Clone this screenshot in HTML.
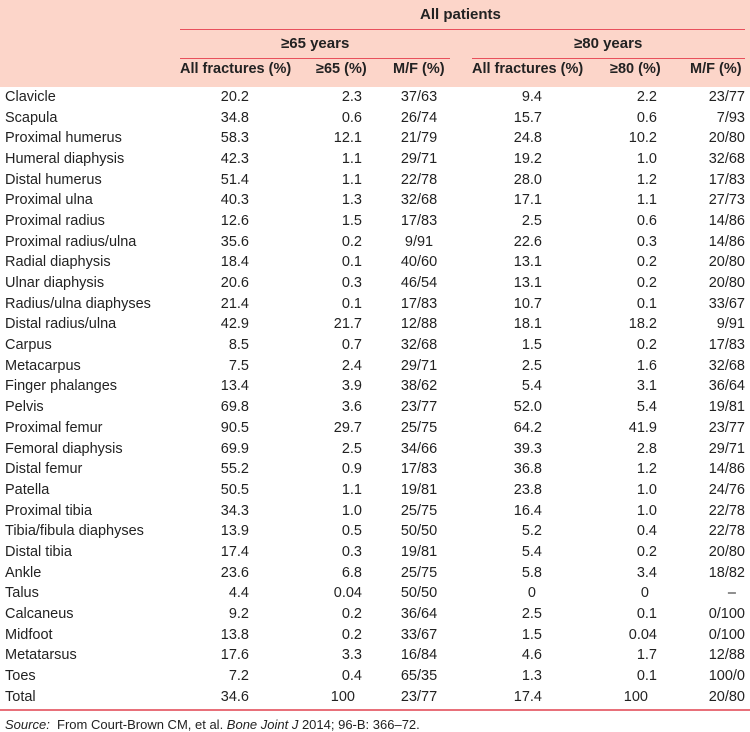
<!DOCTYPE html>
<html><head><meta charset="utf-8"><style>
body{margin:0;width:750px;height:731px;background:#fff;font-family:"Liberation Sans",sans-serif;color:#222;position:relative;overflow:hidden}
.hdr{position:absolute;left:0;top:0;width:750px;height:87px;background:#fcd5c9}
.t{position:absolute;white-space:nowrap;font-size:14.5px;font-weight:bold;color:#222}
.ln{position:absolute;height:1px;background:#e8505c}
table{position:absolute;left:0;top:87px;display:block;font-size:14.5px;width:750px}
tbody{display:block}
tr{display:flex;height:20.7px;align-items:center}
td{display:block;padding:0;white-space:nowrap;line-height:17px;flex:none}
td:nth-child(1){width:175px;padding-left:5px;text-align:left}
td:nth-child(2){width:69px;padding-right:6px;text-align:right}
td:nth-child(3){width:107px;padding-right:6px;text-align:right}
td:nth-child(4){width:102px;text-align:center}
td:nth-child(5){width:72px;padding-right:6px;text-align:right}
td:nth-child(6){width:109px;padding-right:6px;text-align:right}
td:nth-child(7){width:82px;padding-right:5px;text-align:right}
.bl{position:absolute;left:0;top:709px;width:750px;height:2px;background:#e8707a}
.src{position:absolute;left:5px;top:717px;font-size:13px}
</style></head><body>
<div class="hdr"></div>
<div class="t" style="left:420px;top:6px;font-size:15px">All patients</div>
<div class="ln" style="left:180px;top:29px;width:565px"></div>
<div class="t" style="left:281px;top:35px;font-size:15px">≥65 years</div>
<div class="t" style="left:574px;top:35px;font-size:15px">≥80 years</div>
<div class="ln" style="left:180px;top:58px;width:270px"></div>
<div class="ln" style="left:472px;top:58px;width:273px"></div>
<div class="t" style="left:180px;top:61px">All fractures (%)</div>
<div class="t" style="left:316px;top:61px">≥65 (%)</div>
<div class="t" style="left:393px;top:61px">M/F (%)</div>
<div class="t" style="left:472px;top:61px">All fractures (%)</div>
<div class="t" style="left:610px;top:61px">≥80 (%)</div>
<div class="t" style="left:690px;top:61px">M/F (%)</div>
<table><tbody>
<tr><td>Clavicle</td><td>20.2</td><td>2.3</td><td>37/63</td><td>9.4</td><td>2.2</td><td>23/77</td></tr>
<tr><td>Scapula</td><td>34.8</td><td>0.6</td><td>26/74</td><td>15.7</td><td>0.6</td><td>7/93</td></tr>
<tr><td>Proximal humerus</td><td>58.3</td><td>12.1</td><td>21/79</td><td>24.8</td><td>10.2</td><td>20/80</td></tr>
<tr><td>Humeral diaphysis</td><td>42.3</td><td>1.1</td><td>29/71</td><td>19.2</td><td>1.0</td><td>32/68</td></tr>
<tr><td>Distal humerus</td><td>51.4</td><td>1.1</td><td>22/78</td><td>28.0</td><td>1.2</td><td>17/83</td></tr>
<tr><td>Proximal ulna</td><td>40.3</td><td>1.3</td><td>32/68</td><td>17.1</td><td>1.1</td><td>27/73</td></tr>
<tr><td>Proximal radius</td><td>12.6</td><td>1.5</td><td>17/83</td><td>2.5</td><td>0.6</td><td>14/86</td></tr>
<tr><td>Proximal radius/ulna</td><td>35.6</td><td>0.2</td><td>9/91</td><td>22.6</td><td>0.3</td><td>14/86</td></tr>
<tr><td>Radial diaphysis</td><td>18.4</td><td>0.1</td><td>40/60</td><td>13.1</td><td>0.2</td><td>20/80</td></tr>
<tr><td>Ulnar diaphysis</td><td>20.6</td><td>0.3</td><td>46/54</td><td>13.1</td><td>0.2</td><td>20/80</td></tr>
<tr><td>Radius/ulna diaphyses</td><td>21.4</td><td>0.1</td><td>17/83</td><td>10.7</td><td>0.1</td><td>33/67</td></tr>
<tr><td>Distal radius/ulna</td><td>42.9</td><td>21.7</td><td>12/88</td><td>18.1</td><td>18.2</td><td>9/91</td></tr>
<tr><td>Carpus</td><td>8.5</td><td>0.7</td><td>32/68</td><td>1.5</td><td>0.2</td><td>17/83</td></tr>
<tr><td>Metacarpus</td><td>7.5</td><td>2.4</td><td>29/71</td><td>2.5</td><td>1.6</td><td>32/68</td></tr>
<tr><td>Finger phalanges</td><td>13.4</td><td>3.9</td><td>38/62</td><td>5.4</td><td>3.1</td><td>36/64</td></tr>
<tr><td>Pelvis</td><td>69.8</td><td>3.6</td><td>23/77</td><td>52.0</td><td>5.4</td><td>19/81</td></tr>
<tr><td>Proximal femur</td><td>90.5</td><td>29.7</td><td>25/75</td><td>64.2</td><td>41.9</td><td>23/77</td></tr>
<tr><td>Femoral diaphysis</td><td>69.9</td><td>2.5</td><td>34/66</td><td>39.3</td><td>2.8</td><td>29/71</td></tr>
<tr><td>Distal femur</td><td>55.2</td><td>0.9</td><td>17/83</td><td>36.8</td><td>1.2</td><td>14/86</td></tr>
<tr><td>Patella</td><td>50.5</td><td>1.1</td><td>19/81</td><td>23.8</td><td>1.0</td><td>24/76</td></tr>
<tr><td>Proximal tibia</td><td>34.3</td><td>1.0</td><td>25/75</td><td>16.4</td><td>1.0</td><td>22/78</td></tr>
<tr><td>Tibia/fibula diaphyses</td><td>13.9</td><td>0.5</td><td>50/50</td><td>5.2</td><td>0.4</td><td>22/78</td></tr>
<tr><td>Distal tibia</td><td>17.4</td><td>0.3</td><td>19/81</td><td>5.4</td><td>0.2</td><td>20/80</td></tr>
<tr><td>Ankle</td><td>23.6</td><td>6.8</td><td>25/75</td><td>5.8</td><td>3.4</td><td>18/82</td></tr>
<tr><td>Talus</td><td>4.4</td><td>0.04</td><td>50/50</td><td style="width:66px;padding-right:12px">0</td><td style="width:101px;padding-right:14px">0</td><td style="width:73px;padding-right:14px">–</td></tr>
<tr><td>Calcaneus</td><td>9.2</td><td>0.2</td><td>36/64</td><td>2.5</td><td>0.1</td><td>0/100</td></tr>
<tr><td>Midfoot</td><td>13.8</td><td>0.2</td><td>33/67</td><td>1.5</td><td>0.04</td><td>0/100</td></tr>
<tr><td>Metatarsus</td><td>17.6</td><td>3.3</td><td>16/84</td><td>4.6</td><td>1.7</td><td>12/88</td></tr>
<tr><td>Toes</td><td>7.2</td><td>0.4</td><td>65/35</td><td>1.3</td><td>0.1</td><td>100/0</td></tr>
<tr><td>Total</td><td>34.6</td><td style="width:100px;padding-right:13px">100</td><td>23/77</td><td>17.4</td><td style="width:100px;padding-right:15px">100</td><td>20/80</td></tr>
</tbody></table>
<div class="bl"></div>
<div class="src"><i>Source:</i>&nbsp; From Court-Brown CM, et al. <i>Bone Joint J</i> 2014; 96-B: 366–72.</div>
</body></html>
